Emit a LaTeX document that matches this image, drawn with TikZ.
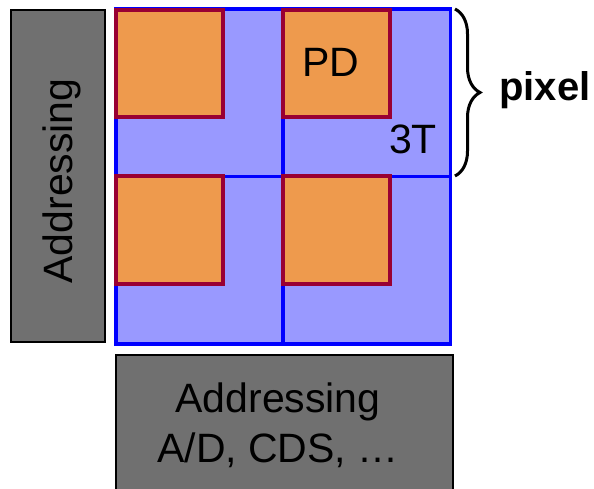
\documentclass[tikz,border=0pt]{standalone}
\usepackage{fontspec}
\setmainfont{Liberation Sans}
\usetikzlibrary{decorations.pathreplacing}
\definecolor{panelgray}{HTML}{707070}
\definecolor{cellfill}{HTML}{9999FF}
\definecolor{cellline}{HTML}{0000FF}
\definecolor{pdfill}{HTML}{EE9A4D}
\definecolor{pdline}{HTML}{990033}
\begin{document}
\begin{tikzpicture}[x=1pt,y=-1pt,
  panel/.style={draw=black,fill=panelgray,line width=2.5pt,inner sep=0pt},
  cell/.style={draw=cellline,fill=cellfill,line width=3.6pt,inner sep=0pt,
    minimum width=167pt,minimum height=167.5pt},
  pdbox/.style={draw=pdline,fill=pdfill,line width=4pt,inner sep=0pt,
    minimum width=107pt,minimum height=107pt},
  lbl/.style={font=\fontsize{41}{49}\selectfont,inner sep=0pt,anchor=base}]
\useasboundingbox (0,0) rectangle (594,489);
\clip (0,0) rectangle (594,489);

% addressing blocks
\node[panel,minimum width=94pt,minimum height=332pt] (rowaddr) at (58,176) {};
\node[lbl,rotate=90] (rowtext) at (72,181) {Addressing};
\node[panel,minimum width=337pt,minimum height=145pt] (coladdr) at (284.5,427.5) {};
\node[lbl] (coltext1) at (278,412) {Addressing};
\node[lbl] (coltext2) at (278,462) {A/D, CDS, \ldots};

% 2x2 pixel array
\node[cell] (c11) at (199.5,92.75) {};
\node[cell] (c12) at (367,92.75) {};
\node[cell] (c21) at (199.5,260.25) {};
\node[cell] (c22) at (367,260.25) {};

% photodiodes
\node[pdbox] (pd11) at (169.5,63.5) {};
\node[pdbox] (pd12) at (336,63.5) {};
\node[pdbox] (pd21) at (169.5,230) {};
\node[pdbox] (pd22) at (336,230) {};

\node[lbl] (pdtext) at (331,77) {PD};
\node[lbl] (ttext) at (413,154) {3T};

% brace marking one pixel
\coordinate (btop) at (455,9);
\coordinate (bbot) at (455,176);
\draw[line width=3pt,decorate,decoration={brace,amplitude=25pt}] (btop) -- (bbot);
\node[inner sep=0pt,anchor=base west,font=\fontsize{40}{48}\selectfont\bfseries] (pixtext) at (499,101) {pixel};
\end{tikzpicture}
\end{document}
